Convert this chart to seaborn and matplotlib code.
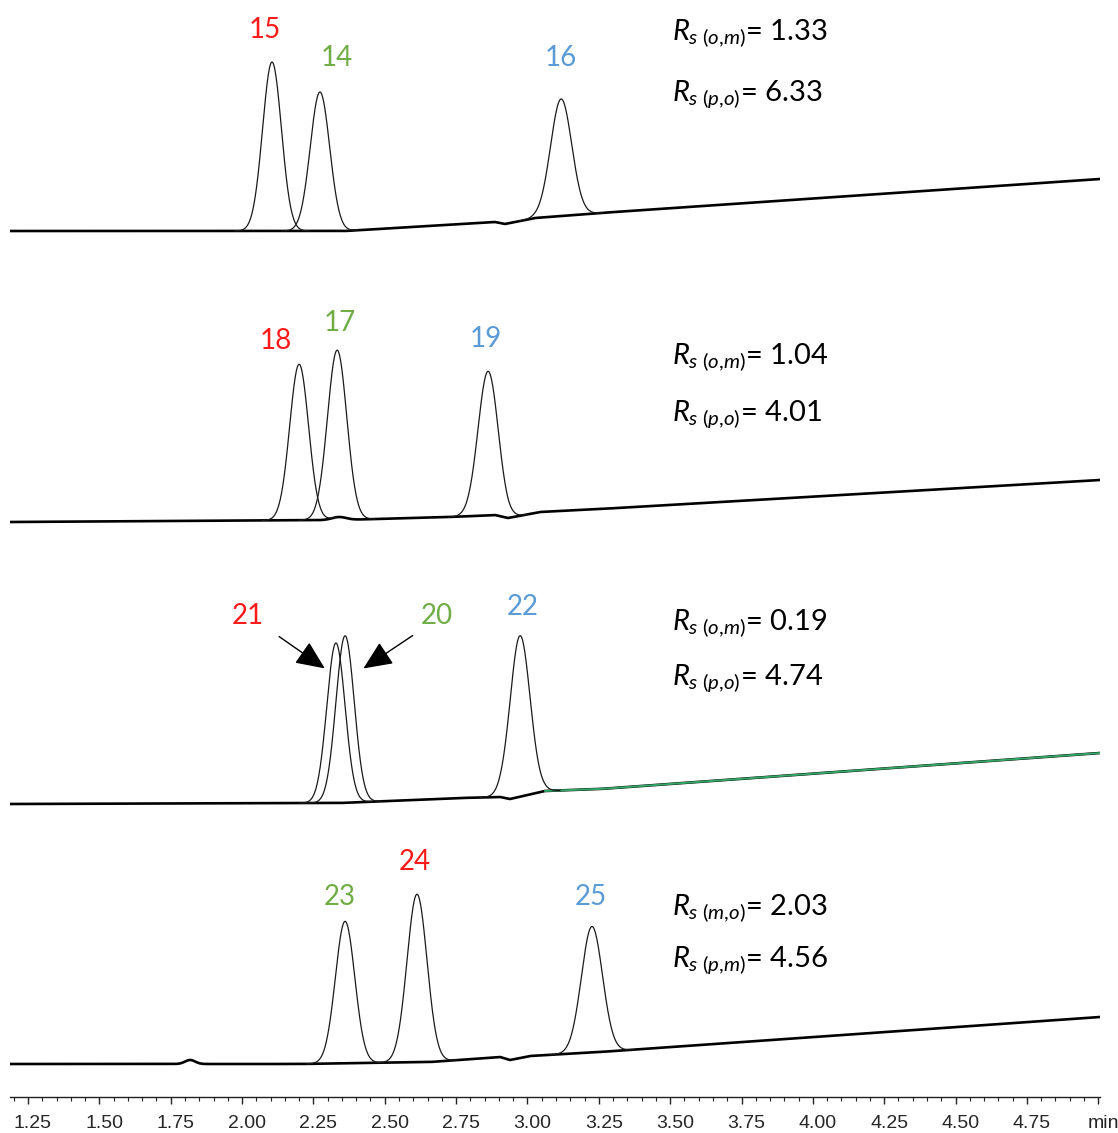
import numpy as np
import matplotlib
matplotlib.use("Agg")
import matplotlib.pyplot as plt
import seaborn as sns
from matplotlib.ticker import MultipleLocator, FixedLocator, FixedFormatter
from matplotlib.transforms import ScaledTranslation

# --- chromatogram data (top trace first) ---
peak_names = [["15", "14", "16"], ["18", "17", "19"], ["21", "20", "22"], ["23", "24", "25"]]
peak_colors = [["red", "green", "blue"], ["red", "green", "blue"],
               ["red", "green", "blue"], ["green", "red", "blue"]]
peak_times = [[2.105, 2.273, 3.118], [2.200, 2.333, 2.862],
              [2.329, 2.361, 2.974], [2.361, 2.613, 3.226]]
peak_heights = [[169, 139, 117], [156, 167, 144], [160, 167, 161], [142, 168, 126]]
peak_sigmas = [[0.033, 0.034, 0.037], [0.033, 0.034, 0.035],
               [0.032, 0.032, 0.035], [0.034, 0.035, 0.037]]

# baseline drift (time in min, signal)
base_t = [
    [1.187, 2.361, 2.764, 2.886, 2.921, 3.026, 3.254, 5.006],
    [1.187, 2.343, 2.729, 2.886, 2.932, 3.044, 3.254, 5.006],
    [1.187, 2.343, 2.764, 2.904, 2.939, 3.061, 3.254, 5.006],
    [1.187, 2.203, 2.659, 2.904, 2.939, 3.009, 3.254, 5.006],
]
base_v = [
    [866, 866, 873, 875, 873, 879, 884, 918],
    [575, 577, 580, 582, 579, 585, 588, 617],
    [293, 294, 299, 300, 298, 306, 308, 344],
    [33, 33, 35, 40, 37, 41, 45, 80],
]
# small humps on the baseline: (trace, time, height, sigma)
bumps = [(1, 2.34, 3, 0.025), (3, 1.818, 4, 0.018)]

rs_pairs = [["o{,}m", "p{,}o"], ["o{,}m", "p{,}o"], ["o{,}m", "p{,}o"], ["m{,}o", "p{,}m"]]
rs_values = [["1.33", "6.33"], ["1.04", "4.01"], ["0.19", "4.74"], ["2.03", "4.56"]]

tick_values = [1.25, 1.50, 1.75, 2.00, 2.25, 2.50, 2.75, 3.00, 3.25, 3.50, 3.75, 4.00, 4.25, 4.50, 4.75]

# --- layout / style ---
colors = {"red": "#FF1A1A", "green": "#70AD47", "blue": "#5B9BD5"}
label_pos = [[(2.080, 1067), (2.333, 1039), (3.118, 1039)],
             [(2.119, 756), (2.343, 774), (2.855, 758)],
             [(2.021, 481), (2.683, 481), (2.984, 490)],
             [(2.343, 200), (2.606, 235), (3.223, 200)]]
rs_x = 3.506
rs_y = [[1057, 997], [733, 676], [467, 413], [182, 131]]

sns.set_style("ticks")
plt.rcParams["font.family"] = ["Liberation Sans", "DejaVu Sans"]
plt.rcParams["mathtext.fontset"] = "custom"
plt.rcParams["mathtext.rm"] = "Lato"
plt.rcParams["mathtext.it"] = "Lato:italic"

fig = plt.figure(figsize=(11.18, 11.33), dpi=100)
ax = fig.add_axes([10 / 1118, 36 / 1133, 1090 / 1118, 1097 / 1133])

t_min, t_max = 1.187, 5.006


def baseline(i, t):
    y = np.interp(t, base_t[i], base_v[i])
    for (j, mu, h, s) in bumps:
        if j == i:
            y = y + h * np.exp(-0.5 * ((t - mu) / s) ** 2)
    return y


for i in range(4):
    tt = np.linspace(t_min, t_max, 2000)
    sns.lineplot(x=tt, y=baseline(i, tt), ax=ax, color="black", lw=1.9,
                 sort=False, estimator=None)
    if i == 2:
        # the third run's baseline is overlaid in green after ~3 min
        tg = tt[tt >= 3.06]
        sns.lineplot(x=tg, y=baseline(i, tg), ax=ax, color="#33A866", lw=1.4,
                     sort=False, estimator=None)
    for k in range(3):
        mu, h, s = peak_times[i][k], peak_heights[i][k], peak_sigmas[i][k]
        tp = np.linspace(mu - 4 * s, mu + 4 * s, 300)
        yp = baseline(i, tp) + h * np.exp(-0.5 * ((tp - mu) / s) ** 2)
        sns.lineplot(x=tp, y=yp, ax=ax, color="#1a1a1a", lw=0.9,
                     sort=False, estimator=None)
        lx, ly = label_pos[i][k]
        ax.text(lx, ly, peak_names[i][k], color=colors[peak_colors[i][k]],
                fontsize=20, family="Lato", ha="center", va="center")
    for r in range(2):
        ax.text(rs_x, rs_y[i][r],
                r"$R_{s\ (%s)}$= %s" % (rs_pairs[i][r], rs_values[i][r]),
                fontsize=21, family="Lato", ha="left", va="baseline", color="black")

# arrows pointing at the co-eluting pair
arrow_style = "-|>,head_length=0.9,head_width=0.4"
ax.annotate("", xy=(2.298, 427), xytext=(2.122, 462),
            arrowprops=dict(arrowstyle=arrow_style, color="black", lw=1.0, mutation_scale=20))
ax.annotate("", xy=(2.417, 427), xytext=(2.606, 463),
            arrowprops=dict(arrowstyle=arrow_style, color="black", lw=1.0, mutation_scale=20))

ax.set_xlim(t_min, t_max)
ax.set_ylim(0, 1097)
for side in ["left", "top", "right"]:
    ax.spines[side].set_visible(False)
ax.spines["bottom"].set_color("#222222")
ax.spines["bottom"].set_linewidth(1.0)
ax.set_yticks([])
ax.set_xlabel("")
ax.set_ylabel("")

ax.xaxis.set_major_locator(FixedLocator(tick_values + [5.0]))
ax.xaxis.set_major_formatter(FixedFormatter(["%.2f" % v for v in tick_values] + ["min"]))
ax.xaxis.set_minor_locator(MultipleLocator(0.05))
ax.tick_params(axis="x", which="major", length=5, width=1.0, color="#222222",
               labelsize=14, labelcolor="#262626", pad=8, direction="out")
ax.tick_params(axis="x", which="minor", length=3, width=0.8, color="#222222",
               direction="out")
shift = ScaledTranslation(5 / 100, 0, fig.dpi_scale_trans)
for lab in ax.get_xticklabels():
    lab.set_transform(lab.get_transform() + shift)

fig.savefig("out.png", dpi=100)
